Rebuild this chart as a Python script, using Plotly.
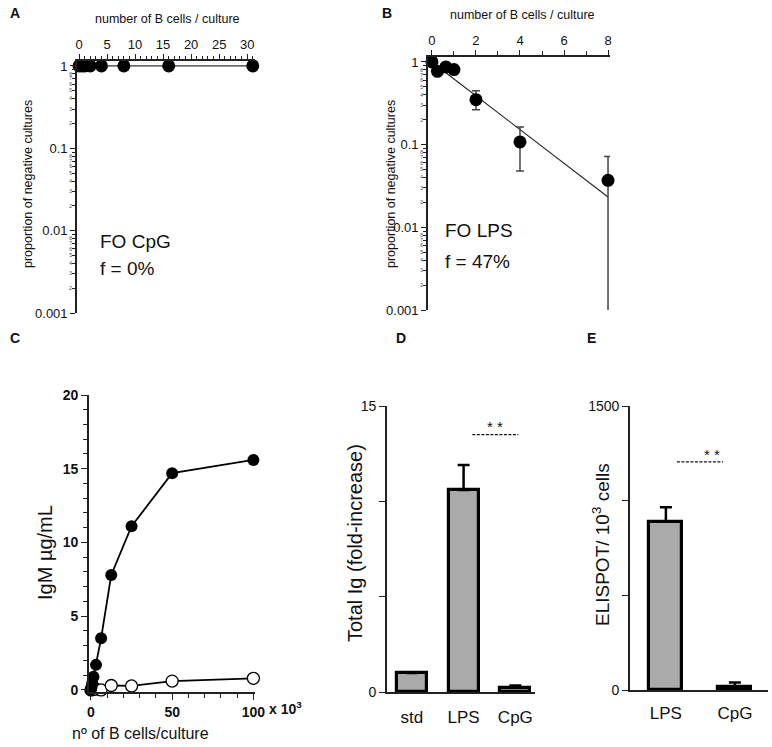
import plotly.graph_objects as go

# ---------------- data ----------------
# Panel A: FO CpG limiting dilution
a_cells = [0, 0.5, 1, 2, 4, 8, 16, 31]
a_prop = [1, 1, 1, 1, 1, 1, 1, 1]
a_fit_x = [0, 31]
a_fit_y = [1, 1]

# Panel B: FO LPS limiting dilution
b_cells = [0, 0.25, 0.63, 1, 2, 4, 8]
b_prop = [1.0, 0.77, 0.87, 0.81, 0.35, 0.108, 0.037]
b_err_up = [0, 0, 0, 0, 0.10, 0.056, 0.035]
b_err_down = [0, 0, 0, 0, 0.085, 0.060, 0.0361]
b_fit_x = [0.6, 8]
b_fit_y = [0.75, 0.0233]

# log-axis tick labels
log_major_vals = [0.001, 0.01, 0.1, 1]
log_major_text = ["0.001", "0.01", "0.1", "1"]
log_minor_digits = [2, 3, 4, 5, 6, 7, 8]

# Panel C: IgM vs number of B cells (x10^3)
c_lps_x = [0, 0.39, 0.78, 1.56, 3.125, 6.25, 12.5, 25, 50, 100]
c_lps_y = [0.05, 0.2, 0.45, 0.9, 1.7, 3.5, 7.8, 11.1, 14.7, 15.6]
c_cpg_x = [0, 0.78, 1.56, 3.125, 6.25, 12.5, 25, 50, 100]
c_cpg_y = [0.0, 0.02, 0.05, 0.05, 0.0, 0.3, 0.27, 0.6, 0.79]

# Panel D: Total Ig fold increase
d_cat = ["std", "LPS", "CpG"]
d_val = [1.0, 10.6, 0.22]
d_err = [0, 1.3, 0.12]

# Panel E: ELISPOT
e_cat = ["LPS", "CpG"]
e_val = [889, 18]
e_err = [76, 21]

FONT = "Arial, Liberation Sans, Helvetica, sans-serif"
AX = "#222222"
W, H = 772, 747


def px(x):
    return x / W


def py(y):
    return 1 - y / H


minor_vals = [d * m for m in log_major_vals[:-1] for d in log_minor_digits]
minor_text = [str(d) for m in log_major_vals[:-1] for d in log_minor_digits]
minor_all = [d * m for m in log_major_vals[:-1] for d in range(2, 10)]

fig = go.Figure()

# ---- Panel A ----
fig.add_trace(go.Scatter(x=a_fit_x, y=a_fit_y, mode="lines",
                         line=dict(color="#333", width=1.3), xaxis="x", yaxis="y",
                         showlegend=False, hoverinfo="skip"))
fig.add_trace(go.Scatter(x=a_cells, y=a_prop, mode="markers",
                         marker=dict(color="black", size=13), xaxis="x", yaxis="y",
                         showlegend=False, cliponaxis=False))
# carrier for the minor-tick axis
fig.add_trace(go.Scatter(x=[None], y=[None], mode="markers", xaxis="x", yaxis="y6",
                         showlegend=False, hoverinfo="skip"))

# ---- Panel B ----
fig.add_trace(go.Scatter(x=b_fit_x, y=b_fit_y, mode="lines",
                         line=dict(color="#222", width=1.1), xaxis="x2", yaxis="y2",
                         showlegend=False, hoverinfo="skip"))
fig.add_trace(go.Scatter(x=b_cells, y=b_prop, mode="markers",
                         marker=dict(color="black", size=13),
                         error_y=dict(type="data", symmetric=False, array=b_err_up,
                                      arrayminus=b_err_down, color="#444",
                                      thickness=1.5, width=4),
                         xaxis="x2", yaxis="y2", showlegend=False, cliponaxis=False))
fig.add_trace(go.Scatter(x=[None], y=[None], mode="markers", xaxis="x2", yaxis="y7",
                         showlegend=False, hoverinfo="skip"))

# ---- Panel C ----
fig.add_trace(go.Scatter(x=c_cpg_x, y=c_cpg_y, mode="lines+markers",
                         line=dict(color="black", width=1.8),
                         marker=dict(color="white", size=12,
                                     line=dict(color="black", width=1.3)),
                         xaxis="x3", yaxis="y3", showlegend=False, cliponaxis=False))
fig.add_trace(go.Scatter(x=c_lps_x, y=c_lps_y, mode="lines+markers",
                         line=dict(color="black", width=1.8),
                         marker=dict(color="black", size=12),
                         xaxis="x3", yaxis="y3", showlegend=False, cliponaxis=False))

# ---- Panel D ----
fig.add_trace(go.Bar(x=d_cat, y=d_val, width=0.58,
                     marker=dict(color="#aaaaaa", line=dict(color="black", width=3.2)),
                     error_y=dict(type="data", symmetric=False, array=d_err,
                                  arrayminus=[0, 0, 0], color="black",
                                  thickness=2.5, width=6),
                     xaxis="x4", yaxis="y4", showlegend=False))

# ---- Panel E ----
fig.add_trace(go.Bar(x=e_cat, y=e_val, width=0.48,
                     marker=dict(color="#aaaaaa", line=dict(color="black", width=3.2)),
                     error_y=dict(type="data", symmetric=False, array=e_err,
                                  arrayminus=[0, 0], color="black",
                                  thickness=2.5, width=6),
                     xaxis="x5", yaxis="y5", showlegend=False))

axis_common = dict(showgrid=False, zeroline=False, showline=True, linecolor=AX,
                   linewidth=1.6, ticks="outside", tickcolor=AX, tickwidth=1.4,
                   color="#111", automargin=False)

logy = dict(axis_common, type="log", range=[-3, 0.06], tickvals=log_major_vals,
            ticktext=log_major_text, ticklen=5, tickfont=dict(size=13, family=FONT),
            minor=dict(tickvals=minor_all, ticks="outside", ticklen=3, tickwidth=1,
                       tickcolor=AX))
logy_minor = dict(showgrid=False, zeroline=False, showline=False, type="log",
                  range=[-3, 0.06], tickvals=minor_vals, ticktext=minor_text,
                  ticks="", ticklabelstandoff=4,
                  tickfont=dict(size=5, family=FONT, color="#444"),
                  automargin=False, side="left")

D_A = [py(313), py(61)]
D_B = [py(310), py(57)]

fig.update_layout(
    width=W, height=H, margin=dict(l=0, r=0, t=0, b=0, autoexpand=False),
    paper_bgcolor="white", plot_bgcolor="white",
    font=dict(family=FONT, color="#111"),
    bargap=0,
    # A
    xaxis=dict(axis_common, domain=[px(77), px(255)], range=[-0.36, 31.4],
               side="top", anchor="y", dtick=5, ticklen=5,
               tickfont=dict(size=13, family=FONT),
               minor=dict(dtick=1, ticks="outside", ticklen=3, tickcolor=AX)),
    yaxis=dict(logy, domain=D_A, anchor="x"),
    yaxis6=dict(logy_minor, domain=D_A, anchor="x", overlaying="y"),
    # B
    xaxis2=dict(axis_common, domain=[px(428), px(610)], range=[-0.18, 8.09],
                side="top", anchor="y2", dtick=2, ticklen=5,
                tickfont=dict(size=13, family=FONT),
                minor=dict(dtick=1, ticks="outside", ticklen=4, tickcolor=AX)),
    yaxis2=dict(logy, domain=D_B, anchor="x2"),
    yaxis7=dict(logy_minor, domain=D_B, anchor="x2", overlaying="y2"),
    # C
    xaxis3=dict(axis_common, domain=[px(89), px(255)], range=[-1.2, 101],
                anchor="y3", tickvals=[0, 50, 100], ticklen=6,
                tickfont=dict(size=14, family=FONT, weight="bold"),
                minor=dict(dtick=10, ticks="outside", ticklen=4, tickcolor=AX)),
    yaxis3=dict(axis_common, domain=[py(692), py(395)], range=[-0.14, 20],
                anchor="x3", dtick=5, ticklen=6,
                tickfont=dict(size=14, family=FONT, weight="bold"),
                minor=dict(dtick=1, ticks="outside", ticklen=4, tickcolor=AX)),
    # D
    xaxis4=dict(axis_common, domain=[px(387), px(535)], range=[-0.48, 2.38],
                anchor="y4", ticks="", ticklabelstandoff=9,
                tickfont=dict(size=17, family=FONT), linewidth=1.8),
    yaxis4=dict(axis_common, domain=[py(692), py(406)], range=[0, 15],
                anchor="x4", tickvals=[0, 15], ticktext=["0", "15"],
                ticklen=6, tickfont=dict(size=14, family=FONT), linewidth=1.8,
                minor=dict(tickvals=[5, 10], ticks="outside", ticklen=6,
                           tickwidth=1.4, tickcolor=AX)),
    # E
    xaxis5=dict(axis_common, domain=[px(630), px(768)], range=[-0.52, 1.48],
                anchor="y5", ticks="", ticklabelstandoff=7,
                tickfont=dict(size=17, family=FONT), linewidth=1.8),
    yaxis5=dict(axis_common, domain=[py(690), py(406)], range=[0, 1500],
                anchor="x5", tickvals=[0, 1500], ticktext=["0", "1500"],
                ticklen=6, tickfont=dict(size=14, family=FONT), linewidth=1.8,
                minor=dict(tickvals=[500, 1000], ticks="outside", ticklen=6,
                           tickwidth=1.4, tickcolor=AX)),
)

ann = []


def label(text, x, y, size, bold=False, angle=0, xanchor="center", yanchor="middle"):
    ann.append(dict(text=text, x=px(x), y=py(y), xref="paper", yref="paper",
                    showarrow=False, textangle=angle, xanchor=xanchor, yanchor=yanchor,
                    font=dict(size=size, family=FONT, color="#111",
                              weight="bold" if bold else "normal")))


# panel letters
label("A", 8, 13, 14, True, xanchor="left")
label("B", 380, 13, 14, True, xanchor="left")
label("C", 8, 338, 14, True, xanchor="left")
label("D", 394, 338, 14, True, xanchor="left")
label("E", 585, 338, 14, True, xanchor="left")

# axis titles
label("number of B cells / culture", 167, 19, 12.5)
label("number of B cells / culture", 522, 15, 12.5)
label("proportion of negative cultures", 28, 184, 12.5, angle=-90)
label("proportion of negative cultures", 391, 184, 12.5, angle=-90)
label("IgM µg/mL", 45, 553, 20, angle=-90)
label("nº of B cells/culture", 140, 733, 16)
label("x 10<sup>3</sup>", 267, 708, 14, True, xanchor="left")
label("Total Ig (fold-increase)", 355, 543, 20, angle=-90)
label("ELISPOT/ 10<sup>3</sup> cells", 601, 545, 19, angle=-90)

# in-plot text
label("FO CpG", 98, 241, 19, xanchor="left")
label("f = 0%", 98, 268, 19, xanchor="left")
label("FO LPS", 443, 230, 19, xanchor="left")
label("f = 47%", 443, 262, 19, xanchor="left")

# significance markers
ann.append(dict(text="* *", x=1.6, y=13.95, xref="x4", yref="y4", showarrow=False,
                font=dict(size=15, family=FONT, color="#111")))
ann.append(dict(text="* *", x=0.67, y=1245, xref="x5", yref="y5", showarrow=False,
                font=dict(size=15, family=FONT, color="#111")))
fig.update_layout(annotations=ann)

fig.add_shape(type="line", xref="x4", yref="y4", x0=1.17, x1=2.06, y0=13.5, y1=13.5,
              line=dict(color="#111", width=1.4, dash="3px,1.5px"))
fig.add_shape(type="line", xref="x5", yref="y5", x0=0.16, x1=0.83, y0=1205, y1=1205,
              line=dict(color="#111", width=1.4, dash="3px,1.5px"))

fig.write_html("out.html", config={"displayModeBar": False},
               post_script="document.body.style.margin='0';document.body.style.padding='0';")
